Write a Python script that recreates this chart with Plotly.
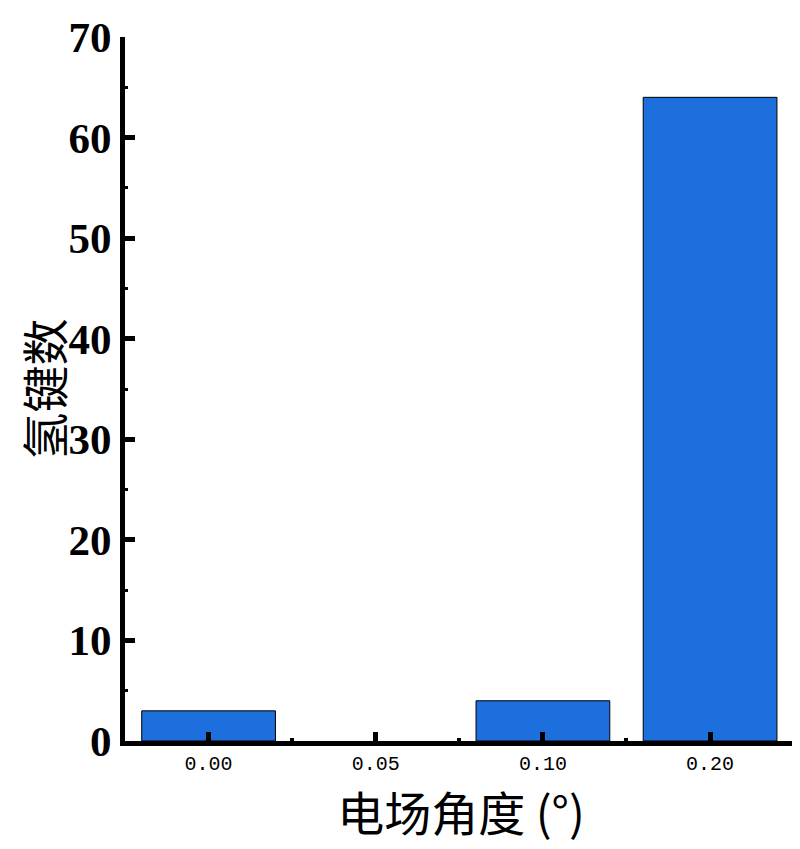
import plotly.graph_objects as go

categories = ["0.00", "0.05", "0.10", "0.20"]
hbond_counts = [3, 0, 4, 64]
y_tick_vals = [0, 10, 20, 30, 40, 50, 60, 70]

positions = list(range(len(categories)))
outline_widths = [1 if v > 0 else 0 for v in hbond_counts]

fig = go.Figure()
fig.add_trace(go.Bar(
    x=positions,
    y=hbond_counts,
    width=0.8,
    marker=dict(color="#1c6fdc", line=dict(color="black", width=outline_widths)),
))

fig.update_layout(
    width=792, height=841,
    margin=dict(l=117, r=3, t=29, b=108, autoexpand=False),
    plot_bgcolor="white", paper_bgcolor="white",
    showlegend=False,
    xaxis=dict(
        range=[-0.5, 3.52], automargin=False,
        tickmode="array", tickvals=positions, ticktext=categories,
        ticks="inside", ticklen=9, tickwidth=5, tickcolor="black",
        minor=dict(ticks="inside", ticklen=3, tickwidth=4, tickcolor="black",
                   tickmode="linear", tick0=0.5, dtick=1),
        showline=True, linewidth=5, linecolor="black",
        showgrid=False, zeroline=False,
        tickfont=dict(family="Liberation Mono", size=20, color="black"),
        title=dict(text="电场角度 (°)", standoff=14,
                   font=dict(family="Noto Sans CJK SC", size=47, color="black")),
    ),
    yaxis=dict(
        range=[0, 70], automargin=False,
        tickmode="array", tickvals=y_tick_vals,
        ticks="inside", ticklen=10, tickwidth=5, tickcolor="black",
        minor=dict(ticks="inside", ticklen=3, tickwidth=3, tickcolor="black",
                   tickmode="linear", tick0=0, dtick=5),
        showline=True, linewidth=5, linecolor="black",
        showgrid=False, zeroline=False,
        tickfont=dict(family="Liberation Serif", size=43, color="black", weight="bold"),
        title=dict(text="氢键数", standoff=6,
                   font=dict(family="Noto Sans CJK SC", size=47, color="black")),
    ),
)

fig.write_html("out.html")
